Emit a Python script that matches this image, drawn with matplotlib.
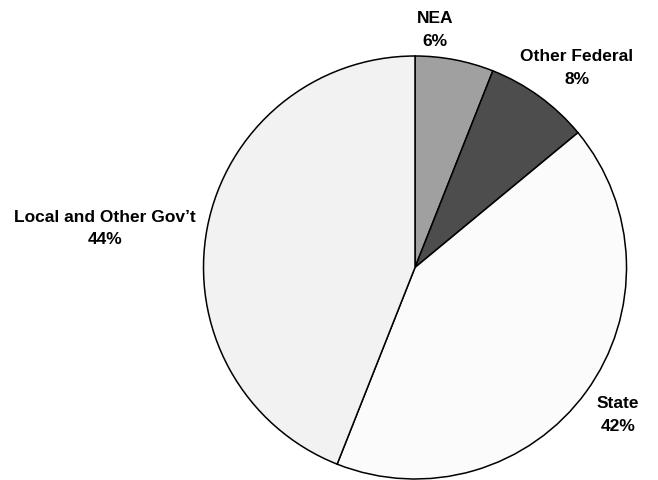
import matplotlib.pyplot as plt

plt.rcParams['font.family'] = ['Liberation Sans', 'DejaVu Sans']

# Datos del gráfico
categorias = ["NEA", "Other Federal", "State", "Local and Other Gov\u2019t"]
porcentajes = [6, 8, 42, 44]
colores = ["#a0a0a0", "#4d4d4d", "#fbfbfb", "#f2f2f2"]

# Posiciones de las etiquetas (pixeles, origen arriba a la izquierda)
pos_etiquetas = [(435, 30), (577, 68), (618, 415), (105, 228.5)]

W, H = 658, 480
fig = plt.figure(figsize=(W / 100, H / 100), dpi=100)
ax = fig.add_axes([0, 0, 1, 1])

cx, cy, r = 415, H - 267.5, 211.5
ax.pie(porcentajes, colors=colores, startangle=90, counterclock=False,
       center=(cx, cy), radius=r, frame=True,
       wedgeprops=dict(edgecolor="black", linewidth=1.1))
ax.set_xlim(0, W)
ax.set_ylim(0, H)
ax.set_aspect("equal")
ax.axis("off")

for cat, pct, (x, y) in zip(categorias, porcentajes, pos_etiquetas):
    ax.text(x, H - y, f"{cat}\n{pct}%", ha="center", va="center",
            fontsize=12.5, fontweight="bold", linespacing=1.65)

fig.savefig("out.png", dpi=100)
